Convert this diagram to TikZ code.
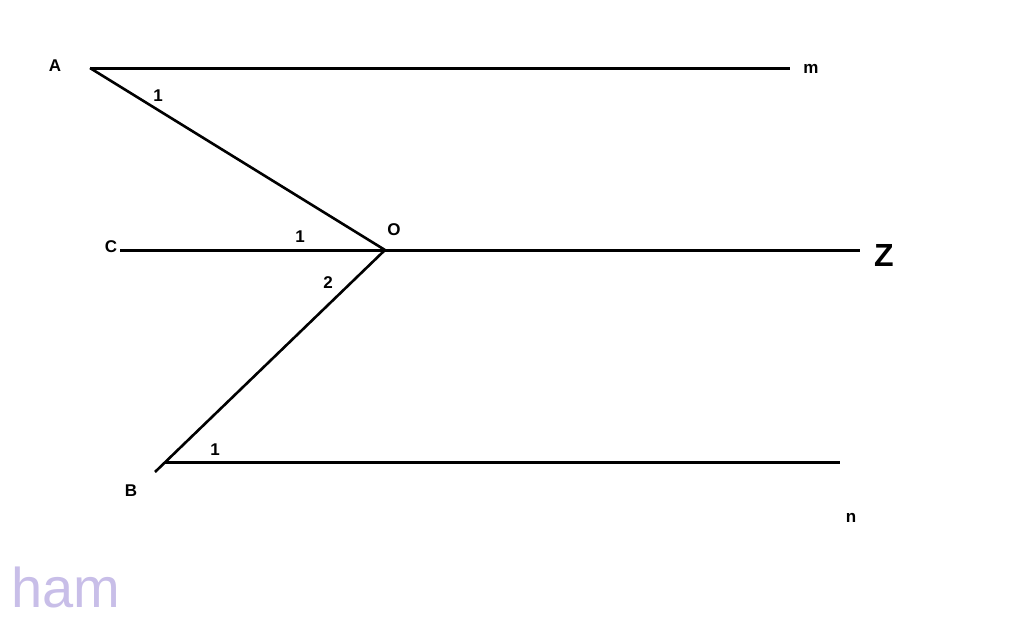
\documentclass[tikz,border=0pt]{standalone}
\usepackage{fontspec}
\setmainfont{Liberation Sans}
\begin{document}
\begin{tikzpicture}[x=1pt,y=-1pt,
  ln/.style={line width=3pt, black},
  lbl/.style={font=\bfseries\fontsize{17}{17}\selectfont, inner sep=0pt},
  num/.style={font=\bfseries\fontsize{17}{17}\selectfont, inner sep=0pt}]
\useasboundingbox (0,0) rectangle (1024,618);
\coordinate (A) at (90,68);
\coordinate (mE) at (790,68);
\coordinate (O) at (385,250);
\coordinate (Cs) at (120,250);
\coordinate (Ze) at (860,250);
\coordinate (B) at (155,472);
\coordinate (Bs) at (165,462);
\coordinate (nE) at (840,462);
\draw[ln] (A) -- (mE);
\draw[line width=2.6pt] (A) -- (O);
\draw[ln] (Cs) -- (Ze);
\draw[line width=2.6pt] (O) -- (B);
\draw[ln] (Bs) -- (nE);
\node[lbl] (lA) at (55,66) {A};
\node[lbl] (lm) at (811,69) {m};
\node[lbl] (lC) at (111,247) {C};
\node[font=\bfseries\fontsize{32}{32}\selectfont, inner sep=0pt] (lZ) at (884,255) {Z};
\node[lbl] (lO) at (394,230) {O};
\node[lbl] (lB) at (131,491) {B};
\node[lbl] (ln) at (851,518) {n};
\node[num] (a1) at (158,96) {1};
\node[num] (c1) at (300,237) {1};
\node[num] (o2) at (328,283) {2};
\node[num] (b1) at (215,450) {1};
\node[font=\fontsize{56}{56}\selectfont, text={rgb,255:red,200;green,190;blue,232}, inner sep=0pt] (ham) at (66,587) {ham};
\end{tikzpicture}
\end{document}
